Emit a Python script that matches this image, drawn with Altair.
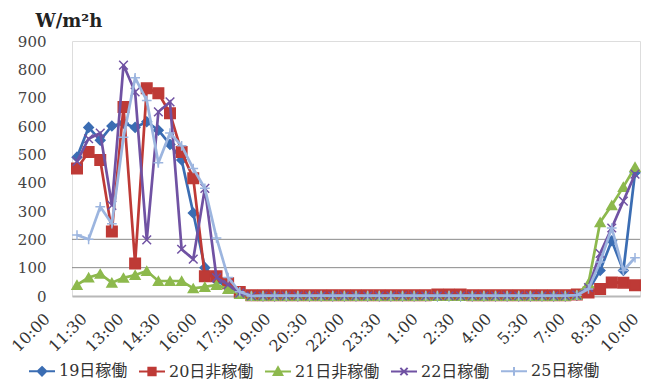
import altair as alt
import pandas as pd

SERIES = ["19日稼働", "20日非稼働", "21日非稼働", "22日稼働", "25日稼働"]
COLORS = ["#3B6DB3", "#BE3A36", "#8DB94D", "#7052A3", "#9CB5DF"]
TICK_LABELS = ["10:00", "11:30", "13:00", "14:30", "16:00", "17:30", "19:00", "20:30",
               "22:00", "23:30", "1:00", "2:30", "4:00", "5:30", "7:00", "8:30", "10:00"]
GRID_VALUES = [100, 200]

# half-hour readings from 10:00 to 10:00 next day (49 points)
V19 = [490, 595, 550, 600, 610, 595, 615, 585, 535, 480, 293, 100, 55, 30, 10, 2,
       0, 0, 0, 0, 0, 0, 0, 0, 0, 0, 0, 0, 0, 0, 0, 0, 0, 0, 0, 0, 0, 0, 0, 0, 0, 0, 0,
       3, 20, 90, 195, 90, 435]
V20 = [450, 508, 480, 228, 667, 115, 733, 716, 645, 508, 416, 70, 70, 45, 14, 3,
       3, 3, 3, 3, 3, 3, 3, 3, 3, 3, 3, 3, 3, 3, 3, 5, 5, 5, 3, 3, 3, 3, 3, 3, 3, 3, 3,
       5, 12, 25, 48, 47, 38]
V21 = [39, 65, 78, 47, 64, 74, 88, 53, 53, 53, 27, 32, 39, 25, 7, 0,
       0, 0, 0, 0, 0, 0, 0, 0, 0, 0, 0, 0, 0, 0, 0, 0, 0, 0, 0, 0, 0, 0, 0, 0, 0, 0, 0,
       3, 45, 260, 320, 385, 455]
V22 = [475, 555, 575, 320, 815, 720, 198, 650, 685, 165, 130, 380, 65, 40, 10, 0,
       0, 0, 0, 0, 0, 0, 0, 0, 0, 0, 0, 0, 0, 0, 0, 0, 0, 0, 0, 0, 0, 0, 0, 0, 0, 0, 0,
       3, 30, 150, 240, 335, 430]
V25 = [215, 200, 315, 255, 560, 770, 690, 470, 575, 530, 450, 380, 205, 65, 15, 0,
       1, 1, 1, 1, 1, 1, 1, 1, 1, 1, 1, 1, 1, 1, 1, 1, 1, 1, 1, 1, 1, 1, 1, 1, 1, 1, 1,
       3, 25, 120, 240, 90, 135]
VALUES = [V19, V20, V21, V22, V25]

MARKER_SHAPES = ["diamond", "square", "triangle-up",
                 "M-1,-1L1,1M-1,1L1,-1", "M-1,0L1,0M0,-1L0,1"]
MARKER_SIZES = [90, 110, 95, 75, 95]
LEGEND_SHAPES = [
    "M-1,0L1,0M0,-0.33L0.33,0L0,0.33L-0.33,0Z",
    "M-1,0L1,0M-0.28,-0.28L0.28,-0.28L0.28,0.28L-0.28,0.28Z",
    "M-1,0L1,0M0,-0.33L0.33,0.26L-0.33,0.26Z",
    "M-1,0L1,0M-0.28,-0.28L0.28,0.28M-0.28,0.28L0.28,-0.28",
    "M-1,0L1,0M0,-0.33L0,0.33",
]

rows = []
for s, vals in zip(SERIES, VALUES):
    for i, v in enumerate(vals):
        rows.append({"idx": i, "value": v, "series": s})
df = pd.DataFrame(rows)

SERIF = "DejaVu Serif, Noto Sans CJK JP"
label_arr = "[" + ",".join("'%s'" % t for t in TICK_LABELS) + "]"

x_scale = alt.Scale(domain=[-0.43, 48.43], nice=False, zero=False)
x_axis = alt.Axis(
    values=list(range(0, 49, 3)),
    labelExpr=label_arr + "[round(datum.value/3)]",
    title=None, ticks=False, grid=False, labelOverlap=False,
    labelAngle=315, labelAlign="right", labelBaseline="middle",
    labelPadding=20, labelOffset={"expr": "-30 + 0.64 * datum.value"},
    labelFont=SERIF, labelFontSize=16, labelColor="#333",
    domainColor="#b8b8b8", domainWidth=2,
)
y_scale = alt.Scale(domain=[0, 900], nice=False)
y_axis = alt.Axis(
    values=list(range(0, 1000, 100)),
    grid=False, domain=False, ticks=False, labelOverlap=False,
    labelPadding=26, labelFont=SERIF, labelFontSize=15, labelColor="#444",
    title="W/m²h", titleAngle=0, titleAlign="left", titleBaseline="alphabetic",
    titleX=-37, titleY=-15, titleFont="DejaVu Serif", titleFontSize=18,
    titleFontWeight="bold", titleColor="#222",
)
x_enc = alt.X("idx:Q", scale=x_scale, axis=x_axis)
y_enc = alt.Y("value:Q", scale=y_scale, axis=y_axis)

base = alt.Chart(df)

grid = alt.Chart(pd.DataFrame({"v": GRID_VALUES})).mark_rule(
    color="#8a8a8a", strokeWidth=1
).encode(y=alt.Y("v:Q", scale=y_scale, axis=y_axis))

layers = [grid]
for s, col, shp, sz in zip(SERIES, COLORS, MARKER_SHAPES, MARKER_SIZES):
    sub = base.transform_filter(alt.datum.series == s)
    layers.append(sub.mark_line(strokeWidth=2.7, color=col).encode(x=x_enc, y=y_enc))
    layers.append(
        sub.mark_point(filled=False, shape=shp, size=sz, strokeWidth=1.5,
                       fill=col, stroke=col, opacity=1).encode(x=x_enc, y=y_enc)
    )

legend = alt.Legend(
    title=None, orient="none", direction="horizontal", legendX=-44, legendY=316,
    labelFont=SERIF, labelFontSize=16, labelColor="#333",
    symbolSize=676, symbolStrokeWidth=2, labelOffset=3, columnPadding=7,
    symbolOpacity=1,
)
legend_layer = base.transform_filter("false").mark_point(filled=True, strokeWidth=2).encode(
    x=x_enc, y=y_enc,
    fill=alt.Fill("series:N", scale=alt.Scale(domain=SERIES, range=COLORS), legend=legend),
    stroke=alt.Stroke("series:N", scale=alt.Scale(domain=SERIES, range=COLORS), legend=legend),
    shape=alt.Shape("series:N", scale=alt.Scale(domain=SERIES, range=LEGEND_SHAPES), legend=legend),
)
layers.append(legend_layer)

chart = alt.layer(*layers).properties(
    width=568, height=255,
    padding={"left": 72, "top": 41, "right": 9, "bottom": 85},
    autosize=alt.AutoSizeParams(type="none"),
).configure_view(strokeWidth=0, stroke="transparent").configure(background="white")

chart.save("out.html", embed_options={"renderer": "svg", "actions": False})
